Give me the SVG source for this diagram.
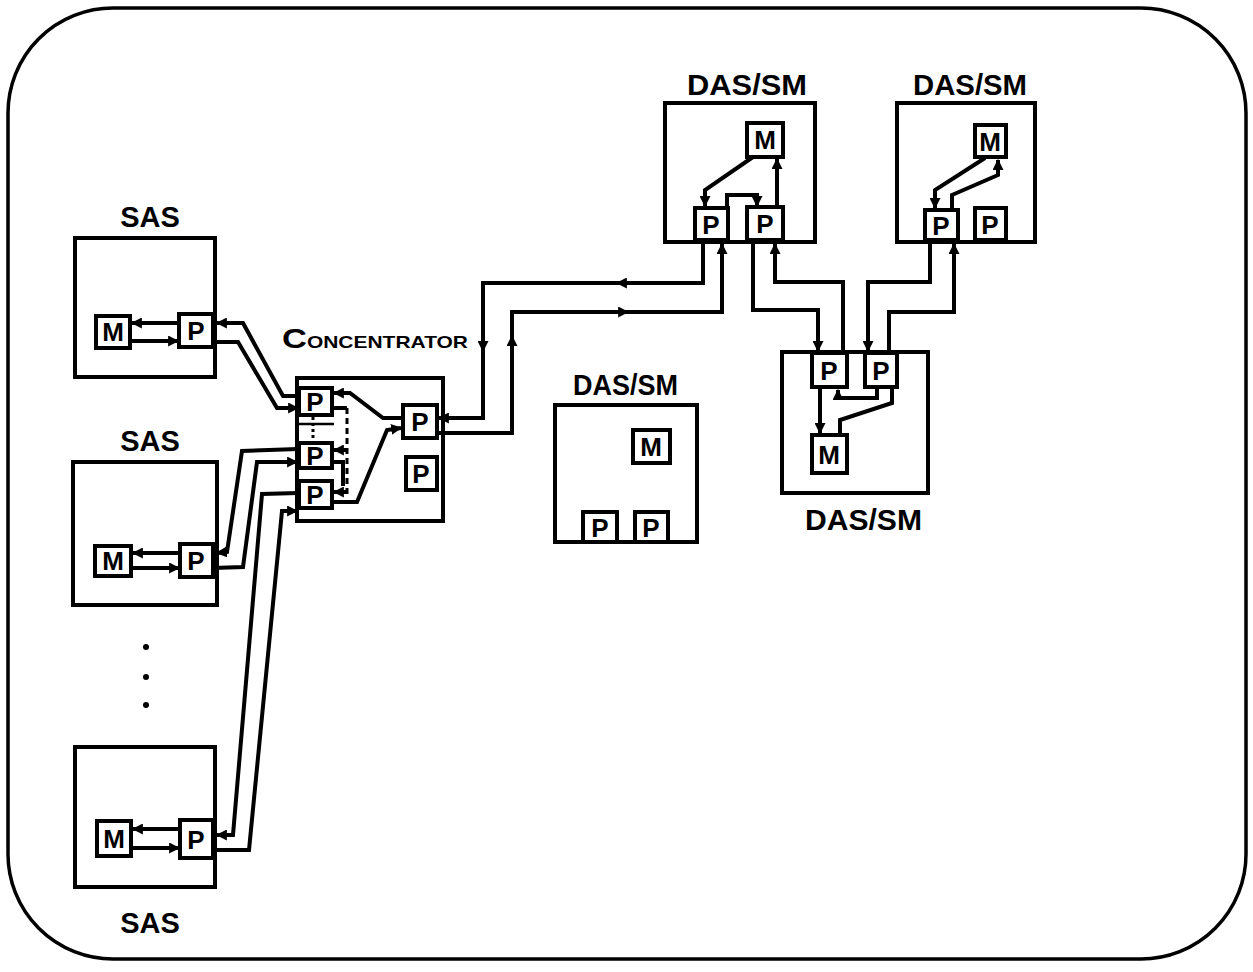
<svg xmlns="http://www.w3.org/2000/svg" width="1253" height="972" viewBox="0 0 1253 972">
<defs>
<style>
.frame{fill:none;stroke:#000;stroke-width:3.5}
.box{fill:#fff;stroke:#000;stroke-width:4}
.ln{fill:none;stroke:#000;stroke-width:4;stroke-linejoin:miter}
.ar{fill:none;stroke:#000;stroke-width:4;marker-end:url(#ah)}
.dash{fill:none;stroke:#000;stroke-width:3;stroke-dasharray:6,4}
.lbl{font-family:"Liberation Sans",Arial,sans-serif;font-weight:bold;font-size:29px;fill:#000}
.pm{font-family:"Liberation Sans",Arial,sans-serif;font-weight:bold;font-size:26px;fill:#000;text-anchor:middle}
</style>
<marker id="ah" viewBox="0 0 10 10" refX="9" refY="5" markerWidth="11" markerHeight="11" markerUnits="userSpaceOnUse" orient="auto">
<path d="M0,0 L10,5 L0,10 z" fill="#000"/>
</marker>
</defs>
<rect width="1253" height="972" fill="#fff"/>
<rect class="frame" x="8" y="8" width="1238" height="951" rx="105" ry="105"/>

<g id="connectors">
<!-- SAS1 <-> concentrator -->
<path class="ar" d="M300,396 L283,396 L243,323 L217,323"/>
<path class="ar" d="M213,342 L238,342 L277,408 L298,408"/>
<!-- SAS2 <-> concentrator -->
<path class="ar" d="M298,449 L242,451 L227,552 L217,553"/>
<path class="ar" d="M213,568 L243,567 L257,462 L297,462"/>
<!-- SAS3 <-> concentrator -->
<path class="ar" d="M298,493 L262,494 L233,835 L217,835"/>
<path class="ar" d="M213,850 L249,850 L282,511 L297,511"/>
<!-- concentrator internal -->
<path class="ar" d="M403,418 L383,418 L350,393 L334,393"/>
<path class="ar" d="M332,502 L357,502 L387,430 L401,428"/>
<path class="ln" d="M332,408 L347,408"/>
<path class="dash" d="M347,408 L347,494"/>
<path class="ar" d="M347,450 L334,450"/>
<path class="ar" d="M347,492 L334,492"/>
<path class="ln" d="M332,462 L343,462 L343,486"/>
<path class="dash" d="M313,417 L313,441" style="stroke-dasharray:3,3"/>
<!-- concentrator to DAS/SM top-left -->
<path class="ar" d="M703,241 L703,283 L483,283 L483,418 L439,418"/>
<path class="ar" d="M640,283 L617,283"/>
<path class="ar" d="M483,336 L483,351"/>
<path class="ar" d="M437,433 L512,433 L512,312 L722,312 L722,244"/>
<path class="ar" d="M512,362 L512,336"/>
<path class="ar" d="M600,312 L628,312"/>
<!-- DAS/SM top-left <-> DAS/SM bottom-right -->
<path class="ar" d="M753,241 L753,310 L818,310 L818,351"/>
<path class="ar" d="M843,353 L843,282 L775,282 L775,244"/>
<!-- DAS/SM top-right <-> DAS/SM bottom-right -->
<path class="ar" d="M930,241 L930,282 L868,282 L868,351"/>
<path class="ar" d="M889,353 L889,312 L954,312 L954,244"/>
<!-- DAS/SM top-left internal -->
<path class="ar" d="M753,157 L705,190 L705,206"/>
<path class="ar" d="M727,208 L727,195 L757,195 L757,206"/>
<path class="ar" d="M777,207 L777,159"/>
<!-- DAS/SM top-right internal -->
<path class="ar" d="M985,158 L935,190 L935,208"/>
<path class="ar" d="M952,210 L952,195 L998,175 L998,160"/>
<!-- DAS/SM bottom-right internal -->
<path class="ar" d="M820,388 L820,433"/>
<path class="ln" d="M892,388 L892,403 L840,420 L840,435"/>
<path class="ar" d="M877,388 L877,398 L838,398 L838,390"/>
<!-- SAS internal -->
<path class="ar" d="M179,323 L132,323"/>
<path class="ar" d="M130,341 L178,341"/>
<path class="ar" d="M180,553 L133,553"/>
<path class="ar" d="M131,568 L179,568"/>
<path class="ar" d="M180,829 L133,829"/>
<path class="ar" d="M131,848 L179,848"/>
</g>

<g id="sas1">
<text class="lbl" x="150" y="227" text-anchor="middle">SAS</text>
<rect class="box" x="75" y="238" width="140" height="139" style="fill:none"/>
<rect class="box" x="96" y="316" width="34" height="32"/>
<text class="pm" x="113" y="341">M</text>
<rect class="box" x="179" y="314" width="34" height="33"/>
<text class="pm" x="196" y="340">P</text>
</g>

<g id="sas2">
<text class="lbl" x="150" y="451" text-anchor="middle">SAS</text>
<rect class="box" x="73" y="462" width="144" height="143" style="fill:none"/>
<rect class="box" x="95" y="546" width="36" height="30"/>
<text class="pm" x="113" y="570">M</text>
<rect class="box" x="180" y="544" width="33" height="33"/>
<text class="pm" x="196" y="570">P</text>
</g>

<g id="dots">
<circle cx="146" cy="647" r="3"/>
<circle cx="146" cy="677" r="3"/>
<circle cx="146" cy="705" r="3"/>
</g>

<g id="sas3">
<rect class="box" x="75" y="747" width="140" height="140" style="fill:none"/>
<rect class="box" x="97" y="821" width="34" height="35"/>
<text class="pm" x="114" y="848">M</text>
<rect class="box" x="180" y="820" width="33" height="38"/>
<text class="pm" x="196" y="849">P</text>
<text class="lbl" x="150" y="933" text-anchor="middle">SAS</text>
</g>

<g id="concentrator">
<text class="lbl" x="282" y="348" textLength="186" lengthAdjust="spacingAndGlyphs"><tspan style="font-size:28px">C</tspan><tspan style="font-size:17px">ONCENTRATOR</tspan></text>
<rect class="box" x="297" y="378" width="146" height="143" style="fill:none"/>
<rect class="box" x="299" y="388" width="33" height="27"/>
<text class="pm" x="315" y="411">P</text>
<path class="ln" d="M297,424 L334,424" style="stroke-width:2.5"/>
<rect class="box" x="299" y="443" width="33" height="25"/>
<text class="pm" x="315" y="465">P</text>
<rect class="box" x="299" y="481" width="33" height="27"/>
<text class="pm" x="315" y="504">P</text>
<rect class="box" x="403" y="405" width="34" height="33"/>
<text class="pm" x="420" y="431">P</text>
<rect class="box" x="406" y="457" width="31" height="33"/>
<text class="pm" x="421" y="483">P</text>
</g>

<g id="das_sm_top_left">
<text class="lbl" x="687" y="95" textLength="120" lengthAdjust="spacingAndGlyphs">DAS/SM</text>
<rect class="box" x="665" y="103" width="150" height="139" style="fill:none"/>
<rect class="box" x="747" y="123" width="36" height="34"/>
<text class="pm" x="765" y="149">M</text>
<rect class="box" x="695" y="208" width="33" height="32"/>
<text class="pm" x="711" y="234">P</text>
<rect class="box" x="747" y="207" width="36" height="33"/>
<text class="pm" x="765" y="233">P</text>
</g>

<g id="das_sm_top_right">
<text class="lbl" x="913" y="95" textLength="114" lengthAdjust="spacingAndGlyphs">DAS/SM</text>
<rect class="box" x="897" y="103" width="138" height="139" style="fill:none"/>
<rect class="box" x="975" y="125" width="31" height="32"/>
<text class="pm" x="990" y="151">M</text>
<rect class="box" x="925" y="210" width="33" height="30"/>
<text class="pm" x="941" y="235">P</text>
<rect class="box" x="975" y="208" width="31" height="32"/>
<text class="pm" x="990" y="234">P</text>
</g>

<g id="das_sm_middle">
<text class="lbl" x="573" y="395" textLength="105" lengthAdjust="spacingAndGlyphs">DAS/SM</text>
<rect class="box" x="555" y="405" width="142" height="137" style="fill:none"/>
<rect class="box" x="633" y="430" width="37" height="33"/>
<text class="pm" x="651" y="456">M</text>
<rect class="box" x="583" y="512" width="34" height="30"/>
<text class="pm" x="600" y="537">P</text>
<rect class="box" x="635" y="512" width="33" height="30"/>
<text class="pm" x="651" y="537">P</text>
</g>

<g id="das_sm_bottom_right">
<rect class="box" x="782" y="352" width="146" height="141" style="fill:none"/>
<rect class="box" x="812" y="353" width="35" height="34"/>
<text class="pm" x="829" y="380">P</text>
<rect class="box" x="865" y="353" width="32" height="34"/>
<text class="pm" x="881" y="380">P</text>
<rect class="box" x="812" y="435" width="35" height="38"/>
<text class="pm" x="829" y="464">M</text>
<text class="lbl" x="805" y="530" textLength="117" lengthAdjust="spacingAndGlyphs">DAS/SM</text>
</g>
</svg>
